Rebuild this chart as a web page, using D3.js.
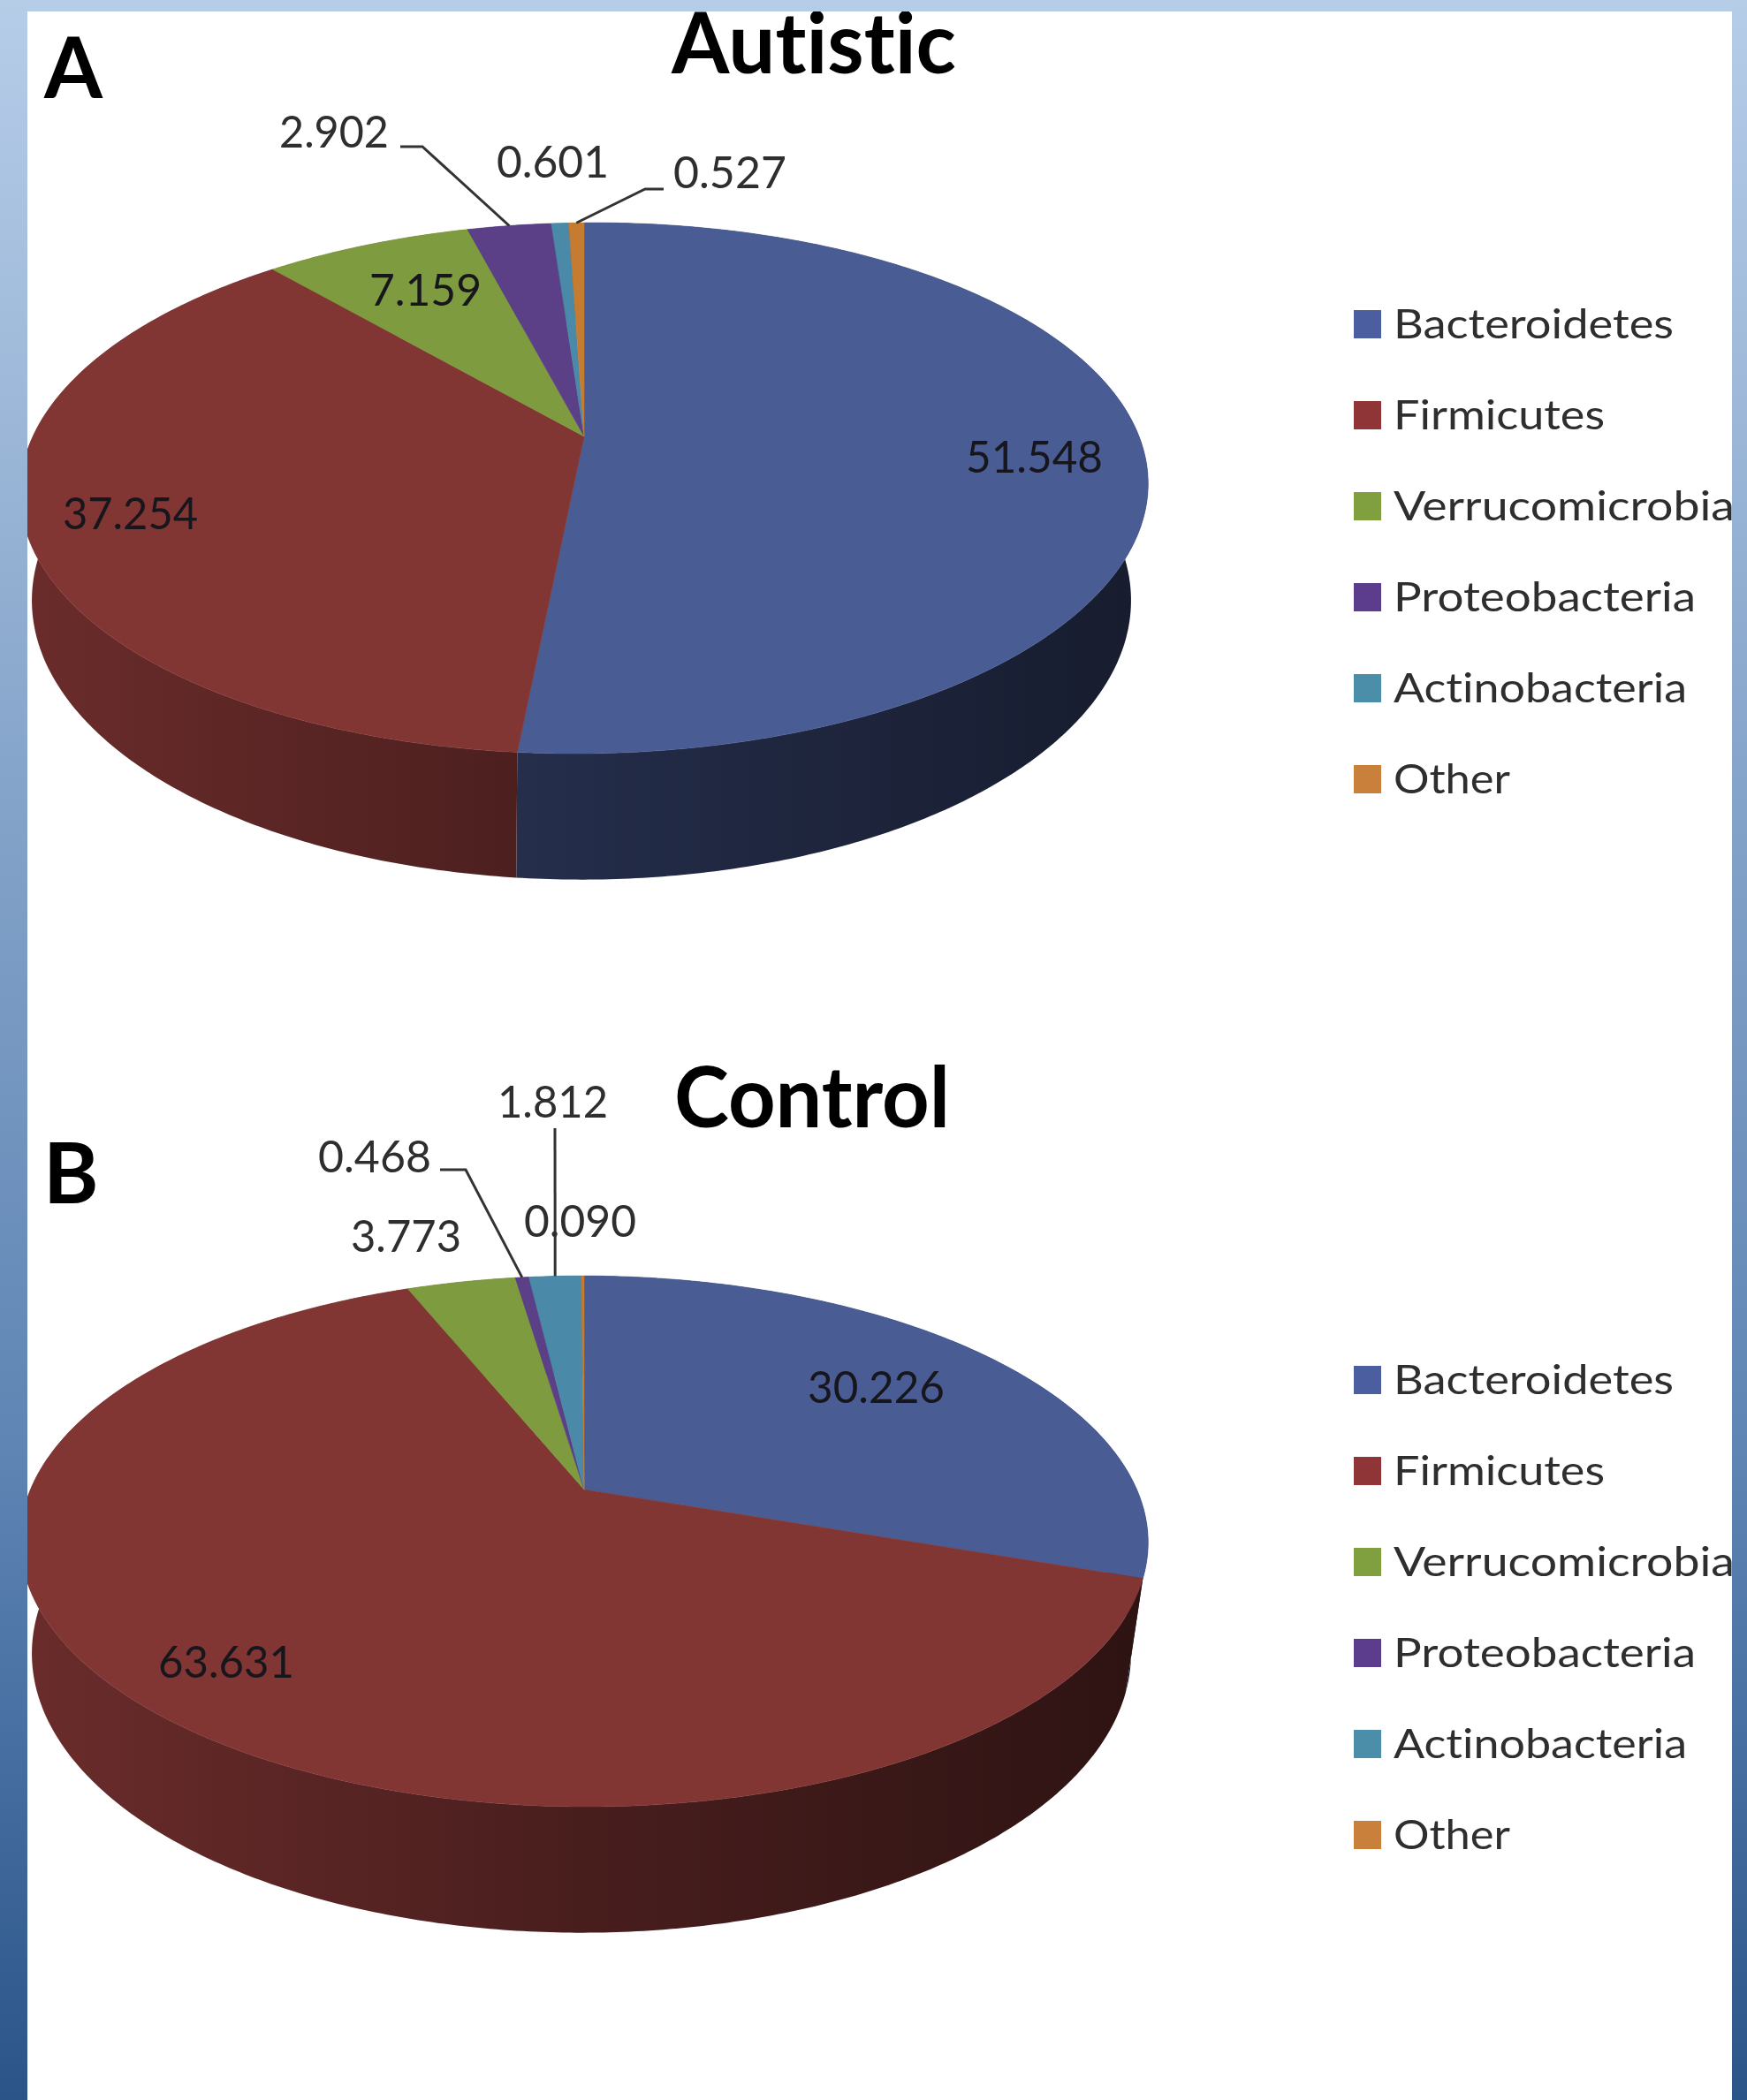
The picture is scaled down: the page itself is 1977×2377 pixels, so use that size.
<!DOCTYPE html>
<html>
<head>
<meta charset="utf-8">
<title>Gut microbiota composition: autistic and control groups</title>
<script src="https://cdnjs.cloudflare.com/ajax/libs/d3/7.8.5/d3.min.js"></script>
<style>
  html, body { margin: 0; padding: 0; background: #fff; }
  svg { display: block; }
  text { font-family: Lato, "Open Sans", sans-serif; font-variant-ligatures: none; font-feature-settings: "liga" 0; }
</style>
</head>
<body>
<svg id="figure" width="1977" height="2377"></svg>
<script>
// Phylum shares in percent
const categories = ["Bacteroidetes", "Firmicutes", "Verrucomicrobia", "Proteobacteria", "Actinobacteria", "Other"];
const autisticValues = [51.548, 37.254, 7.159, 2.902, 0.601, 0.527];
const controlValues = [30.226, 63.631, 3.773, 0.468, 1.812, 0.090];

// Fill colours: pie top, pie side wall, legend key
const topColors = ["#4a5c94", "#813634", "#7f9b3f", "#5b3f87", "#4a89a8", "#c67c30"];
const wallColors = ["#3f4f80", "#813634", "#7f9b3f", "#5b3f87", "#4a89a8", "#c67c30"];
const legendColors = ["#4a5ea0", "#8f3537", "#80a040", "#5c3d8d", "#4a8eaa", "#c8803a"];

// Value label anchors per slice: left x, baseline y, text length
const autisticLabelSpots = [[1093, 535, 155], [71, 599, 153], [418, 346, 127], [316, 167, 124], [562, 201, 127], [762, 213, 128]];
const controlLabelSpots = [[914, 1588, 155], [179, 1899, 154], [397, 1417, 125], [360, 1327, 128], [563, 1265, 125], [593, 1400, 127]];

// Leader lines: which slice they point at and their fixed bend points
const autisticLeaders = [{ slice: 3, bends: [[453, 166], [478, 166]] }, { slice: 5, bends: [[751, 214], [730, 214]] }];
const controlLeaders = [{ slice: 3, bends: [[498, 1324], [527, 1324]] }, { slice: 4, bends: [[628, 1277]] }];

const W = 1977, H = 2377;
const panelBox = { x: 31, y: 13, w: 1929, h: H - 13 };
const legendX = 1532, legendTextX = 1577, keySize = 32;
const legendWidths = [317, 239, 386, 342, 332, 132];

// Perspective disc: unit circle to screen, foreshortened toward the far edge
const pieX = 661, perspective = 0.195;
const topDisc = { a: 626, b: 289, apexOffset: 0, shiftX: 0 };
const baseDisc = { a: 610, b: 304, apexOffset: 124, shiftX: -3 };

const xFromRim = d3.scaleLinear().domain([-1, 1]).range([pieX - 1, pieX + 1]);

function project(disc, apexY, angle, tilt = 0) {
  const u = Math.sin(angle), v = Math.cos(angle);
  const w = 1 + perspective * v;
  const dx = disc.a * u / w;
  return [xFromRim(dx) + disc.shiftX, apexY + disc.apexOffset - disc.b * v / w + tilt * dx];
}

function arcAngles(start, end) {
  return d3.range(start, end, 0.01).concat([end]);
}

const pieLayout = d3.pie().sort(null).startAngle(0).endAngle(2 * Math.PI);
const outline = d3.line();
const shadeByX = d3.scaleLinear().domain([31, 660, 1290]).range([0.82, 0.56, 0.36]);

const svg = d3.select("#figure");
const defs = svg.append("defs");

// Page background
const pageGradient = defs.append("linearGradient").attr("id", "page")
  .attr("gradientUnits", "userSpaceOnUse").attr("x1", 0).attr("y1", 0).attr("x2", 0).attr("y2", H);
[[0, "#b6cde8"], [1000 / H, "#7f9fc6"], [1640 / H, "#5e85b4"], [1, "#2b5489"]].forEach(([o, c]) =>
  pageGradient.append("stop").attr("offset", o).attr("stop-color", c));

svg.append("rect").attr("width", W).attr("height", H).attr("fill", "url(#page)");
svg.append("rect").attr("x", panelBox.x).attr("y", panelBox.y).attr("width", panelBox.w).attr("height", panelBox.h).attr("fill", "#fff");

defs.append("clipPath").attr("id", "panelClip").append("rect")
  .attr("x", panelBox.x).attr("y", panelBox.y).attr("width", panelBox.w).attr("height", panelBox.h);

// Side wall shading runs left to right across the disc
wallColors.forEach((color, i) => {
  const g = defs.append("linearGradient").attr("id", "wall" + i)
    .attr("gradientUnits", "userSpaceOnUse").attr("x1", 31).attr("y1", 0).attr("x2", 1290).attr("y2", 0);
  shadeByX.domain().forEach(x => {
    const base = d3.rgb(color), f = shadeByX(x);
    g.append("stop").attr("offset", (x - 31) / (1290 - 31))
      .attr("stop-color", d3.rgb(base.r * f, base.g * f, base.b * f).formatHex());
  });
});

const chart = svg.append("g").attr("clip-path", "url(#panelClip)");

function drawPie(opts) {
  const arcs = pieLayout(opts.values);
  const g = chart.append("g");

  // Side walls first; the top faces cover whatever lies behind them
  g.selectAll("path.wall").data(arcs).join("path")
    .attr("class", "wall")
    .attr("fill", (d, i) => `url(#wall${i})`)
    .attr("d", d => {
      const angles = arcAngles(d.startAngle, d.endAngle);
      const rim = angles.map(t => project(topDisc, opts.apexY, t, opts.tilt));
      const foot = angles.map(t => project(baseDisc, opts.apexY, t)).reverse();
      return outline(rim.concat(foot)) + "Z";
    });

  g.selectAll("path.slice").data(arcs).join("path")
    .attr("class", "slice")
    .attr("fill", (d, i) => topColors[i])
    .attr("stroke", (d, i) => topColors[i])
    .attr("stroke-width", 0.6)
    .attr("d", d => {
      const apex = [pieX, opts.apexY];
      const rim = arcAngles(d.startAngle, d.endAngle).map(t => project(topDisc, opts.apexY, t, opts.tilt));
      return outline([apex].concat(rim)) + "Z";
    });

  // Leaders end on the rim at the middle of their slice
  g.selectAll("path.leader").data(opts.leaders).join("path")
    .attr("class", "leader")
    .attr("fill", "none").attr("stroke", "#333").attr("stroke-width", 3)
    .attr("d", l => {
      const a = arcs[l.slice];
      return outline(l.bends.concat([project(topDisc, opts.apexY, (a.startAngle + a.endAngle) / 2, opts.tilt)]));
    });

  g.selectAll("text.value").data(opts.values).join("text")
    .attr("class", "value")
    .attr("x", (d, i) => opts.spots[i][0])
    .attr("y", (d, i) => opts.spots[i][1])
    .attr("textLength", (d, i) => opts.spots[i][2])
    .attr("lengthAdjust", "spacingAndGlyphs")
    .attr("font-size", 51)
    .attr("fill", (d, i) => opts.innerLabels.includes(i) ? "#16161c" : "#2e2e2e")
    .text(d => d.toFixed(3));

  // Title and panel letter
  g.append("text").attr("x", opts.titleX).attr("y", opts.titleY)
    .attr("textLength", opts.titleLen).attr("lengthAdjust", "spacingAndGlyphs")
    .attr("font-size", 96).attr("font-weight", 700).attr("fill", "#000").text(opts.title);
  g.append("text").attr("x", opts.letterX).attr("y", opts.letterY)
    .attr("font-size", 95).attr("font-weight", 700).attr("fill", "#000").text(opts.letter);

  // Legend
  const rowY = d3.scalePoint().domain(categories).range([opts.legendY, opts.legendY + 515]);
  const rows = g.selectAll("g.legend").data(categories).join("g").attr("class", "legend");
  rows.append("rect")
    .attr("x", legendX).attr("y", d => rowY(d) - keySize)
    .attr("width", keySize - 1).attr("height", keySize)
    .attr("fill", (d, i) => legendColors[i]);
  rows.append("text")
    .attr("x", legendTextX).attr("y", d => rowY(d))
    .attr("textLength", (d, i) => legendWidths[i]).attr("lengthAdjust", "spacingAndGlyphs")
    .attr("font-size", 46).attr("fill", "#2e2e2e").text(d => d);
}

drawPie({
  values: autisticValues, apexY: 494, tilt: -0.008, spots: autisticLabelSpots, leaders: autisticLeaders, innerLabels: [0, 1, 2],
  title: "Autistic", titleX: 760, titleY: 83, titleLen: 322,
  letter: "A", letterX: 50, letterY: 111, legendY: 383
});

drawPie({
  values: controlValues, apexY: 1686, tilt: 0.002, spots: controlLabelSpots, leaders: controlLeaders, innerLabels: [0, 1],
  title: "Control", titleX: 763, titleY: 1276, titleLen: 312,
  letter: "B", letterX: 49, letterY: 1362, legendY: 1578
});
</script>
</body>
</html>
